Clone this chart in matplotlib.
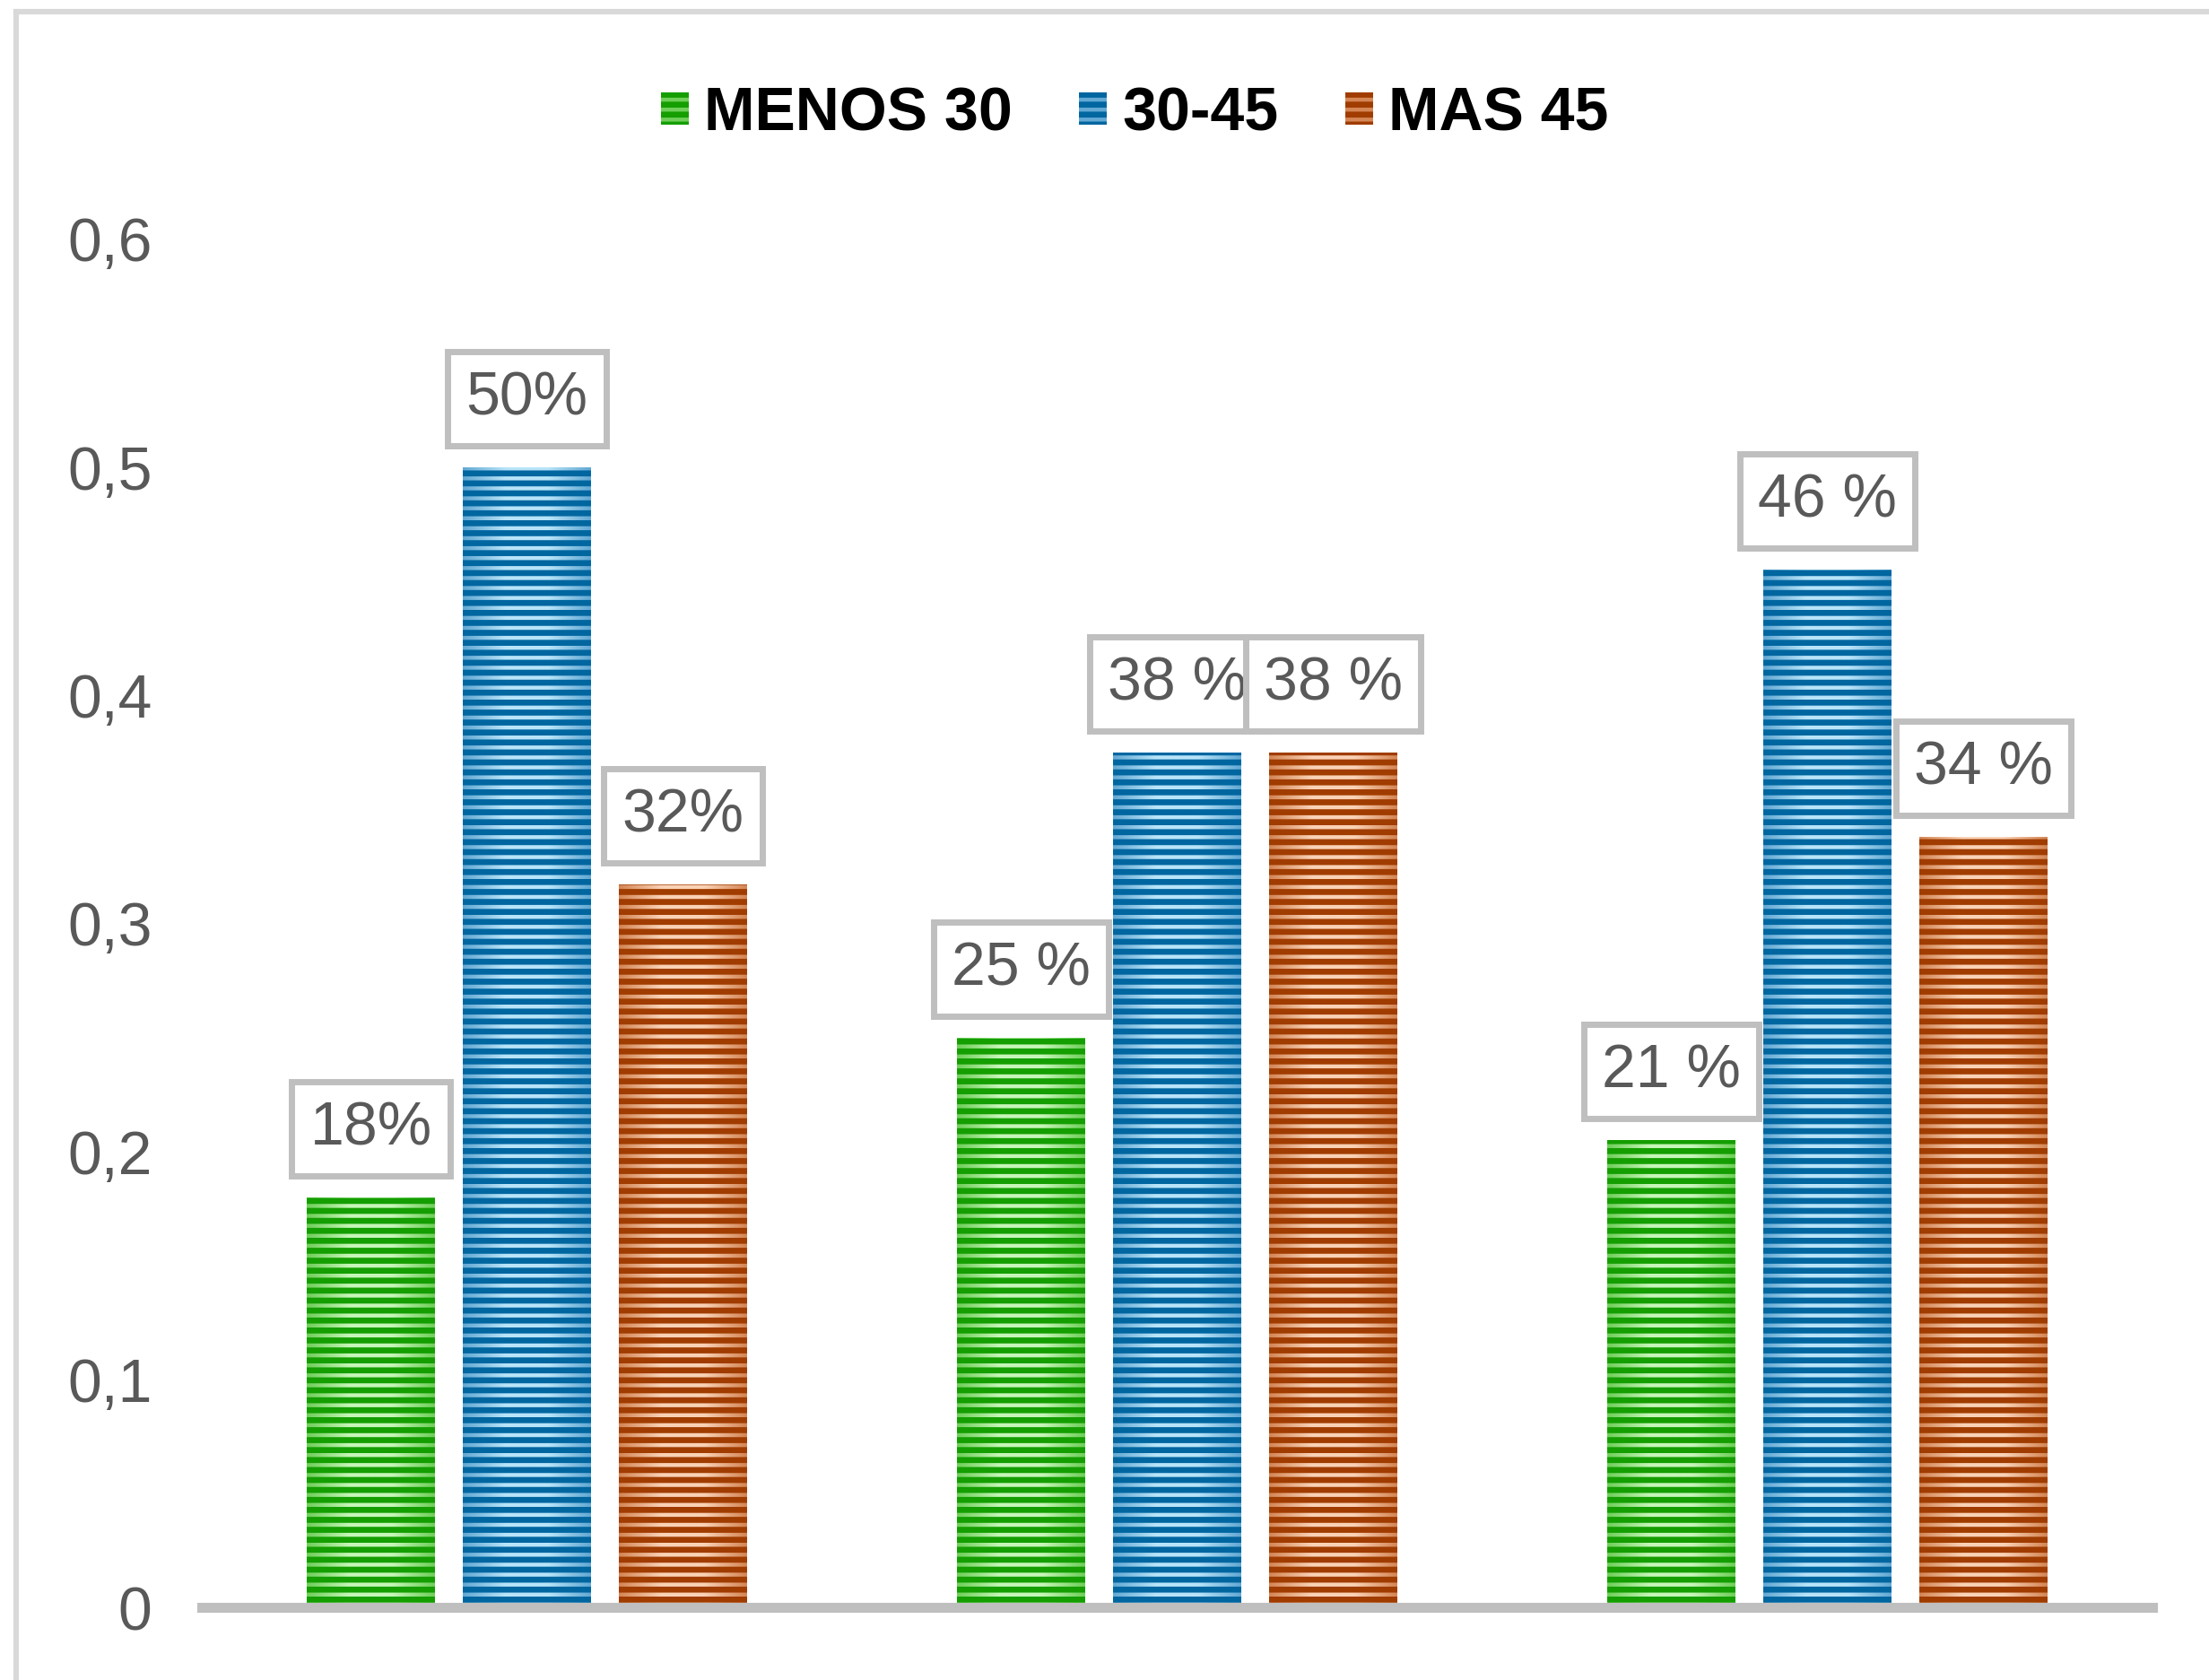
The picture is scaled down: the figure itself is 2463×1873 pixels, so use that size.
import numpy as np
import matplotlib
matplotlib.use("Agg")
import matplotlib.pyplot as plt
from matplotlib.colors import LinearSegmentedColormap
from matplotlib.patches import Patch
from matplotlib.lines import Line2D

# data
groups = [0, 1, 2]
series = ["MENOS 30", "30-45", "MAS 45"]
menos30 = [0.18, 0.25, 0.205]
de30a45 = [0.50, 0.375, 0.455]
mas45 = [0.317, 0.375, 0.338]
lab_menos30 = ["18%", "25 %", "21 %"]
lab_30a45 = ["50%", "38 %", "46 %"]
lab_mas45 = ["32%", "38 %", "34 %"]
yticks = [0, 0.1, 0.2, 0.3, 0.4, 0.5, 0.6]
ytick_labels = ["0", "0,1", "0,2", "0,3", "0,4", "0,5", "0,6"]

# dark stripe, light centre, shaded edge
styles = [
    ("#149e00", "#c6f6b9", "#6fcf5a"),
    ("#0066a0", "#b8e4f9", "#63a9d4"),
    ("#a03c00", "#fad2b6", "#d58656"),
]

plt.rcParams["font.family"] = ["Liberation Sans", "DejaVu Sans"]
plt.rcParams["hatch.linewidth"] = 2.4

fig = plt.figure(figsize=(12.315, 9.365), dpi=200)
ax = fig.add_axes([0.0914, 0.0430, 0.8830, 0.8148])

width = 0.197
step = 0.24
values = [menos30, de30a45, mas45]
texts = [lab_menos30, lab_30a45, lab_mas45]

for i, (vals, labs, (dark, light, edge)) in enumerate(zip(values, texts, styles)):
    xs = np.array(groups) + (i - 1) * step
    bars = ax.bar(xs, vals, width, facecolor="none", edgecolor=dark,
                  linewidth=0, hatch="---", zorder=3)
    cmap = LinearSegmentedColormap.from_list("g%d" % i, [edge, light, light, edge])
    grad = np.linspace(0, 1, 64).reshape(1, -1)
    for b in bars:
        x0, w, h = b.get_x(), b.get_width(), b.get_height()
        im = ax.imshow(grad, cmap=cmap, aspect="auto", extent=(x0, x0 + w, 0, h),
                       zorder=2, interpolation="bicubic")
        im.set_clip_path(b)
    for b, lab in zip(bars, labs):
        ax.annotate(lab, (b.get_x() + b.get_width() / 2, b.get_height()),
                    xytext=(0, 16), textcoords="offset points",
                    ha="center", va="bottom", fontsize=24.5, color="#595959",
                    bbox=dict(boxstyle="square,pad=0.3", facecolor="white",
                              edgecolor="#bfbfbf", linewidth=2.5),
                    zorder=5)

ax.set_xlim(-0.5, 2.5)
ax.set_ylim(0, 0.6)
ax.set_yticks(yticks)
ax.set_yticklabels(ytick_labels)
ax.set_xticks([])
ax.tick_params(axis="y", length=0, pad=20, labelsize=24.5, labelcolor="#595959")
for s in ["top", "right", "left"]:
    ax.spines[s].set_visible(False)
ax.spines["bottom"].set_color("#bfbfbf")
ax.spines["bottom"].set_linewidth(4)
ax.spines["bottom"].set_zorder(4)

handles = [Patch(facecolor=edge, edgecolor=dark, linewidth=0, hatch="---")
           for dark, light, edge in styles]
fig.legend(handles, series, loc="center", bbox_to_anchor=(0.5136, 0.932),
           ncol=3, frameon=False, prop=dict(weight="bold", size=24.5),
           handlelength=0.45, handleheight=0.45, handletextpad=0.25,
           columnspacing=1.1)

# outer frame (only top and left visible in the original)
fig.add_artist(Line2D([0.0073, 1], [0.9931, 0.9931], transform=fig.transFigure,
                      color="#d9d9d9", linewidth=2.2))
fig.add_artist(Line2D([0.0073, 0.0073], [0, 0.9931], transform=fig.transFigure,
                      color="#d9d9d9", linewidth=2.2))

fig.savefig("out.png", dpi=200)
